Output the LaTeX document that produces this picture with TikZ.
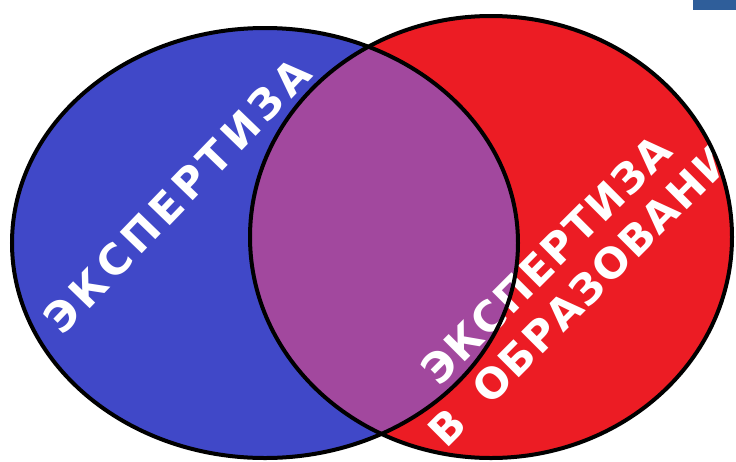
\documentclass[tikz,border=0pt]{standalone}
\usepackage{fontspec}
\newfontfamily\vennfont{DejaVu Sans}[LetterSpace=12]
\newfontfamily\vennfonttight{DejaVu Sans}[LetterSpace=4]
\usetikzlibrary{positioning}
\definecolor{setblue}{RGB}{64,72,200}
\definecolor{setred}{RGB}{236,28,36}
\definecolor{setboth}{RGB}{162,72,158}
\definecolor{cornerblue}{RGB}{47,94,154}

\begin{document}
\begin{tikzpicture}[
  x=1pt, y=-1pt,
  setline/.style={draw=black, line width=4pt},
  setlabel/.style={text=white, rotate=46, inner sep=0pt,
    font=\vennfont\bfseries\fontsize{42}{49}\selectfont},
  eduline/.style={setlabel, rotate=-1, anchor=west,
    font=\vennfonttight\bfseries\fontsize{42}{49}\selectfont}
]
\useasboundingbox (0,0) rectangle (736,461);
\def\leftset{(265,243) ellipse [x radius=253pt, y radius=215pt]}
\def\rightset{(491,237) ellipse [x radius=241pt, y radius=221pt]}

% the two sets and their overlap
\fill[setblue] \leftset;
\fill[setred] \rightset;
\begin{scope}
  \clip \leftset;
  \fill[setboth] \rightset;
\end{scope}

\node[setlabel] (expert) at (177,196) {ЭКСПЕРТИЗА};
\begin{scope}
  \clip \rightset;
  \node[eduline] (eduexpert) at (429,377) {ЭКСПЕРТИЗА};
  \node[eduline] (edufield) at (436,439) {В\hspace{0.3em} ОБРАЗОВАНИИ};
\end{scope}

\draw[setline] \leftset;
\draw[setline] \rightset;

\fill[cornerblue] (693,0) rectangle (736,10);
\end{tikzpicture}
\end{document}
